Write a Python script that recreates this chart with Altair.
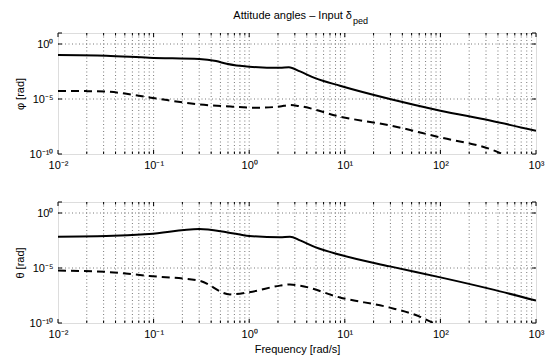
import altair as alt
import pandas as pd

# ---- data (frequency in rad/s, magnitude in rad) ----
phi_solid_f = [0.01, 0.032, 0.09, 0.3, 0.45, 0.58, 1.0, 2.1, 2.6, 3.4, 4.9, 8.9, 29.6, 100, 331, 1000]
phi_solid_v = [1.0e-1, 8.7e-2, 5.6e-2, 4.4e-2, 2.8e-2, 1.6e-2, 8.7e-3, 6.8e-3, 7.9e-3, 3.2e-3,
               7.9e-4, 1.6e-4, 1.0e-5, 8.7e-7, 1.1e-7, 1.3e-8]
phi_dash_f = [0.01, 0.02, 0.032, 0.09, 0.3, 0.67, 1.2, 2.1, 2.67, 3.4, 8.9, 29.6, 100, 331, 447, 1000]
phi_dash_v = [5.4e-5, 5.2e-5, 4.7e-5, 1.4e-5, 3.2e-6, 2.0e-6, 1.6e-6, 2.1e-6, 2.8e-6, 2.2e-6,
              2.5e-7, 4.0e-8, 3.2e-9, 2.8e-10, 1.0e-10, 6.3e-12]
theta_solid_f = [0.01, 0.032, 0.09, 0.3, 0.58, 1.0, 2.1, 2.67, 3.4, 4.9, 8.9, 29.6, 100, 331, 1000]
theta_solid_v = [7.1e-3, 8.1e-3, 1.26e-2, 3.5e-2, 1.8e-2, 8.1e-3, 6.3e-3, 7.1e-3, 3.2e-3,
                 7.9e-4, 1.6e-4, 1.4e-5, 1.4e-6, 1.26e-7, 1.1e-8]
theta_dash_f = [0.01, 0.032, 0.09, 0.3, 0.63, 1.0, 2.1, 2.67, 3.4, 8.9, 29.6, 60, 85, 200]
theta_dash_v = [5.8e-6, 4.4e-6, 1.9e-6, 7.1e-7, 4.0e-8, 6.3e-8, 2.5e-7, 3.2e-7, 2.5e-7,
                2.1e-8, 2.5e-9, 4.0e-10, 1.0e-10, 1.0e-11]

x_major = [0.01, 0.1, 1, 10, 100, 1000]
x_grid = [m * d for d in [0.01, 0.1, 1, 10, 100] for m in range(1, 10)][1:]
x_minor = [m * d for d in [0.01, 0.1, 1, 10, 100] for m in range(2, 10)]
y_major = [1e-10, 1e-5, 1]
y_grid = [1e-5, 1]

title_main = "Attitude angles – Input δ"
title_sub = "ped"

W, H = 478, 121
FONT = "Liberation Sans"

sup = {-10: "⁻¹⁰", -5: "⁻⁵", -2: "⁻²", -1: "⁻¹", 0: "⁰", 1: "¹", 2: "²", 3: "³"}
label_expr = "'10' + (" + " : ".join(
    f"round(log(datum.value)/LN10) == {k} ? '{v}'" for k, v in sup.items()) + " : '')"

xs = alt.Scale(type="log", domain=[0.01, 1000], nice=False)
ys = alt.Scale(type="log", domain=[1e-10, 10], nice=False)


def panel(sf, sv, df_, dv, ytitle, xtitle, with_title):
    solid = pd.DataFrame({"f": sf, "v": sv})
    dash = pd.DataFrame({"f": df_, "v": dv})
    xaxis = alt.Axis(values=x_major, labelExpr=label_expr, ticks=False, grid=False,
                     domain=False, labelPadding=5, labelFontSize=11, labelFont=FONT,
                     labelColor="black", title=xtitle, titleFont=FONT, titleFontSize=11,
                     titleFontWeight="normal", titleColor="black", titlePadding=4,
                     labelFlush=False)
    yaxis = alt.Axis(values=y_major, labelExpr=label_expr, ticks=False, grid=False,
                     domain=False, labelPadding=5, labelFontSize=11, labelFont=FONT,
                     labelColor="black", title=ytitle, titleFont=FONT, titleFontSize=11,
                     titleFontWeight="normal", titleColor="black", titlePadding=4,
                     labelFlush=False)
    X = lambda: alt.X("f:Q", scale=xs, axis=xaxis)
    Y = lambda: alt.Y("v:Q", scale=ys, axis=yaxis)

    gx = alt.Chart(pd.DataFrame({"f": x_grid})).mark_rule(
        color="#555", strokeWidth=0.8, strokeDash=[1, 2.5]).encode(
        x=X(), y=alt.value(0), y2=alt.value(H))
    gy = alt.Chart(pd.DataFrame({"v": y_grid})).mark_rule(
        color="#555", strokeWidth=0.8, strokeDash=[1, 2.5]).encode(
        y=Y(), x=alt.value(0), x2=alt.value(W))

    tick_major = pd.DataFrame({"f": x_major})
    tick_minor = pd.DataFrame({"f": x_minor})
    tk = []
    for data, ln in [(tick_major, 4), (tick_minor, 2.5)]:
        for y0, y1 in [(0, ln), (H, H - ln)]:
            tk.append(alt.Chart(data).mark_rule(color="black", strokeWidth=1).encode(
                x=X(), y=alt.value(y0), y2=alt.value(y1)))
    ytk = pd.DataFrame({"v": y_major + [10]})
    for x0, x1 in [(0, 4), (W, W - 4)]:
        tk.append(alt.Chart(ytk).mark_rule(color="black", strokeWidth=1).encode(
            y=Y(), x=alt.value(x0), x2=alt.value(x1)))

    l1 = alt.Chart(solid).mark_line(color="black", strokeWidth=2, clip=True,
                                    interpolate="monotone").encode(x=X(), y=Y())
    l2 = alt.Chart(dash).mark_line(color="black", strokeWidth=2, strokeDash=[8, 5],
                                   clip=True, interpolate="monotone").encode(x=X(), y=Y())

    layers = [gx, gy] + tk + [l1, l2]
    if with_title:
        t1 = alt.Chart(pd.DataFrame({"t": [title_main]})).mark_text(
            align="right", baseline="alphabetic", fontSize=11, font=FONT, color="black").encode(
            text="t:N", x=alt.value(294), y=alt.value(-14))
        t2 = alt.Chart(pd.DataFrame({"t": [title_sub]})).mark_text(
            align="left", baseline="alphabetic", fontSize=9, font=FONT, color="black").encode(
            text="t:N", x=alt.value(295), y=alt.value(-9))
        layers += [t1, t2]
    return alt.layer(*layers).properties(width=W, height=H)


top = panel(phi_solid_f, phi_solid_v, phi_dash_f, phi_dash_v, "φ [rad]", None, True)
bot = panel(theta_solid_f, theta_solid_v, theta_dash_f, theta_dash_v, "θ [rad]",
            "Frequency [rad/s]", False)

chart = alt.vconcat(top, bot, spacing=48, bounds="flush").properties(
    autosize=alt.AutoSizeParams(type="pad"),
    padding={"left": 13, "top": 9, "right": 0, "bottom": 5},
).configure_view(stroke="black", strokeWidth=1.2).configure(background="white")

chart.save("out.html", embed_options={"renderer": "svg", "actions": False})
